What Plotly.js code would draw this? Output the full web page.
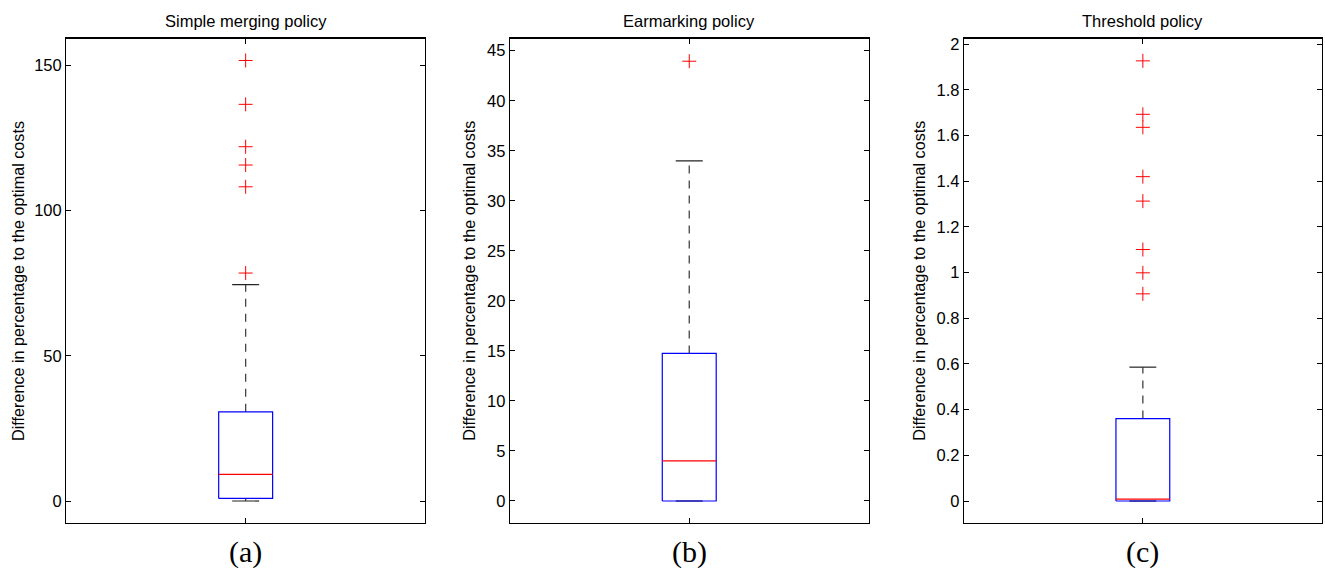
<!DOCTYPE html>
<html>
<head>
<meta charset="utf-8">
<script src="https://cdn.plot.ly/plotly-3.0.1.min.js"></script>
<style>html,body{margin:0;padding:0;background:#fff;}#chart{width:1325px;height:568px;}</style>
</head>
<body>
<div id="chart"></div>
<script>
// ---- data ----
const policies = ["Simple merging policy", "Earmarking policy", "Threshold policy"];
const panelLabels = ["(a)", "(b)", "(c)"];
const yAxisTitle = "Difference in percentage to the optimal costs";
const lowerWhisker = [0, 0, 0];
const q1 = [0.9, 0, 0];
const median = [9.2, 4.0, 0.008];
const q3 = [30.7, 14.75, 0.361];
const upperWhisker = [74.5, 34.0, 0.586];
const outliersA = [151.7, 136.6, 122.0, 115.7, 108.2, 78.5];
const outliersB = [43.95];
const outliersC = [1.927, 1.693, 1.636, 1.420, 1.313, 1.101, 0.999, 0.907];
const yTickStep = [50, 5, 0.2];
const yRanges = [[-7.47, 159.2], [-2.17, 46.2], [-0.095, 2.024]];

// ---- layout constants ----
const W = 1325, H = 568;
const xDomains = [[66.3, 425], [510, 868.5], [964, 1321.7]];
const plotTop = 38.7, plotBottom = 522.7;
const pos = 1, boxHalf = 0.0752, capHalf = 0.0376;
const outliers = [outliersA, outliersB, outliersC];
const sans = "Liberation Sans, Arial, Helvetica, sans-serif";

const traces = [];
const layout = {
  width: W, height: H,
  margin: {l: 0, r: 0, t: 0, b: 0},
  paper_bgcolor: "#fff", plot_bgcolor: "#fff",
  showlegend: false,
  font: {family: sans, color: "#000"},
  annotations: []
};

for (let i = 0; i < 3; i++) {
  const s = i === 0 ? "" : String(i + 1);
  const xa = "x" + s, ya = "y" + s;
  const common = {xaxis: xa, yaxis: ya, hoverinfo: "skip", showlegend: false};
  // whiskers (dashed)
  traces.push(Object.assign({
    type: "scatter", mode: "lines",
    x: [pos, pos, null, pos, pos],
    y: [q3[i], upperWhisker[i], null, lowerWhisker[i], q1[i]],
    line: {color: "#444", width: 1.3, dash: "8px,7px"}
  }, common));
  // caps
  traces.push(Object.assign({
    type: "scatter", mode: "lines",
    x: [pos - capHalf, pos + capHalf, null, pos - capHalf, pos + capHalf],
    y: [upperWhisker[i], upperWhisker[i], null, lowerWhisker[i], lowerWhisker[i]],
    line: {color: "#222", width: 1.2}
  }, common));
  // box
  traces.push(Object.assign({
    type: "scatter", mode: "lines",
    x: [pos - boxHalf, pos + boxHalf, pos + boxHalf, pos - boxHalf, pos - boxHalf],
    y: [q1[i], q1[i], q3[i], q3[i], q1[i]],
    line: {color: "#0000ff", width: 1.2}
  }, common));
  // median
  traces.push(Object.assign({
    type: "scatter", mode: "lines",
    x: [pos - boxHalf, pos + boxHalf],
    y: [median[i], median[i]],
    line: {color: "#ff0000", width: 1.2}
  }, common));
  // outliers
  traces.push(Object.assign({
    type: "scatter", mode: "markers",
    x: outliers[i].map(() => pos),
    y: outliers[i],
    marker: {symbol: "cross-thin-open", size: 10, color: "#ff0000", line: {color: "#ff0000", width: 1}}
  }, common));

  const xd = [xDomains[i][0] / W, xDomains[i][1] / W];
  const yd = [(H - plotBottom) / H, (H - plotTop) / H];
  layout["xaxis" + s] = {
    domain: xd, range: [0.5, 1.5], anchor: ya,
    tickvals: [pos], showticklabels: false,
    ticks: "inside", ticklen: 5, tickcolor: "#000", tickwidth: 1,
    showline: true, linecolor: "#000", linewidth: 1.3, mirror: "ticks",
    showgrid: false, zeroline: false, fixedrange: true
  };
  layout["yaxis" + s] = {
    domain: yd, range: yRanges[i], anchor: xa,
    dtick: yTickStep[i], tick0: 0,
    ticks: "inside", ticklen: 5, tickcolor: "#000", tickwidth: 1,
    tickfont: {family: sans, size: 16.5, color: "#000"},
    ticklabelstandoff: 0,
    showline: true, linecolor: "#000", linewidth: 1.3, mirror: "ticks",
    showgrid: false, zeroline: false, fixedrange: true
  };
  const cx = (xd[0] + xd[1]) / 2;
  layout.annotations.push({
    xref: "paper", yref: "paper", x: cx, y: (H - 20.6) / H,
    xanchor: "center", yanchor: "middle", showarrow: false,
    text: policies[i], font: {size: 16.5, family: sans, color: "#000"}
  });
  layout.annotations.push({
    xref: "paper", yref: "paper", x: cx, y: (H - 552) / H,
    xanchor: "center", yanchor: "middle", showarrow: false,
    text: panelLabels[i], font: {size: 30, family: "Liberation Serif, Times New Roman, serif", color: "#000"}
  });
  const ylx = [17.3, 469, 919][i];
  layout.annotations.push({
    xref: "paper", yref: "paper", x: ylx / W, y: (H - (plotTop + plotBottom) / 2) / H,
    xanchor: "center", yanchor: "middle", showarrow: false, textangle: -90,
    text: yAxisTitle, font: {size: 16.2, family: sans, color: "#000"}
  });
}

Plotly.newPlot("chart", traces, layout, {staticPlot: true, displayModeBar: false});
</script>
</body>
</html>
